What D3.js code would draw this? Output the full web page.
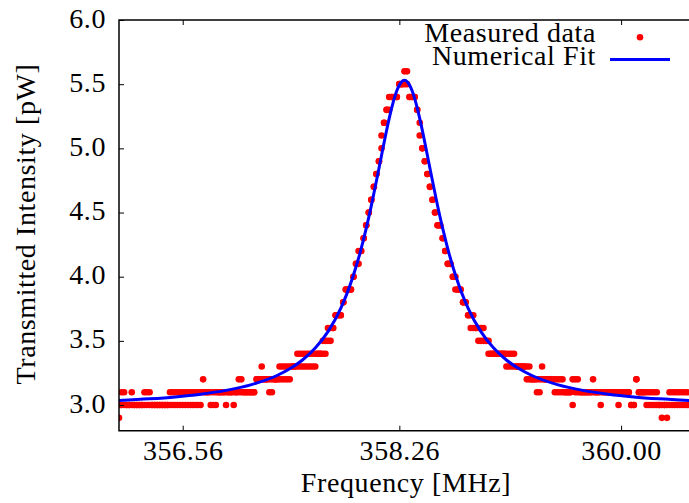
<!DOCTYPE html>
<html><head><meta charset="utf-8">
<script src="https://cdn.jsdelivr.net/npm/d3@7"></script>
<style>body{margin:0;background:#fff}svg{display:block}</style>
</head><body><svg id="c" width="689" height="503"></svg>
<script>
// ---- data ----
const freq=[356.06,356.08,356.10,356.12,356.14,356.16,356.18,356.20,356.22,356.24,
356.26,356.28,356.30,356.32,356.34,356.36,356.38,356.40,356.42,356.44,
356.46,356.48,356.50,356.52,356.54,356.56,356.58,356.60,356.62,356.64,
356.66,356.68,356.70,356.72,356.74,356.76,356.78,356.80,356.82,356.84,
356.86,356.88,356.90,356.92,356.94,356.96,356.98,357.00,357.02,357.04,
357.06,357.08,357.10,357.12,357.14,357.16,357.18,357.20,357.22,357.24,
357.26,357.28,357.30,357.32,357.34,357.36,357.38,357.40,357.42,357.44,
357.46,357.48,357.50,357.52,357.54,357.56,357.58,357.60,357.62,357.64,
357.66,357.68,357.70,357.72,357.74,357.76,357.78,357.80,357.82,357.84,
357.86,357.88,357.90,357.92,357.94,357.96,357.98,358.00,358.02,358.04,
358.06,358.08,358.10,358.12,358.14,358.16,358.18,358.20,358.22,358.24,
358.26,358.28,358.30,358.32,358.34,358.36,358.38,358.40,358.42,358.44,
358.46,358.48,358.50,358.52,358.54,358.56,358.58,358.60,358.62,358.64,
358.66,358.68,358.70,358.72,358.74,358.76,358.78,358.80,358.82,358.84,
358.86,358.88,358.90,358.92,358.94,358.96,358.98,359.00,359.02,359.04,
359.06,359.08,359.10,359.12,359.14,359.16,359.18,359.20,359.22,359.24,
359.26,359.28,359.30,359.32,359.34,359.36,359.38,359.40,359.42,359.44,
359.46,359.48,359.50,359.52,359.54,359.56,359.58,359.60,359.62,359.64,
359.66,359.68,359.70,359.72,359.74,359.76,359.78,359.80,359.82,359.84,
359.86,359.88,359.90,359.92,359.94,359.96,359.98,360.00,360.02,360.04,
360.06,360.08,360.10,360.12,360.14,360.16,360.18,360.20,360.22,360.24,
360.26,360.28,360.30,360.32,360.34,360.36,360.38,360.40,360.42,360.44,
360.46,360.48,360.50,360.52];
const sweepA=[2.9,3.0,3.0,3.0,3.0,3.0,3.0,3.0,3.0,3.0,
3.0,3.0,3.0,3.0,3.0,3.0,3.0,3.0,3.0,3.0,
3.0,3.0,3.0,3.0,3.0,3.0,3.0,3.0,3.0,3.0,
3.0,3.0,3.0,3.2,3.1,3.1,3.0,3.0,3.0,3.1,
3.1,3.1,3.0,3.1,3.1,3.0,3.1,3.2,3.2,3.1,
3.1,3.1,3.1,3.1,3.2,3.2,3.2,3.2,3.2,3.2,
3.2,3.2,3.2,3.2,3.2,3.2,3.2,3.2,3.3,3.3,
3.3,3.3,3.3,3.3,3.3,3.3,3.3,3.3,3.4,3.4,
3.4,3.4,3.5,3.5,3.6,3.7,3.7,3.7,3.8,3.9,
3.9,3.9,4.0,4.1,4.1,4.2,4.3,4.4,4.5,4.6,
4.7,4.8,4.9,5.0,5.2,5.3,5.3,5.4,5.4,5.4,
5.5,5.5,5.5,5.6,5.4,5.4,5.4,5.3,5.2,5.0,
4.9,4.8,4.7,4.6,4.5,4.4,4.4,4.3,4.2,4.1,
4.1,4.0,4.0,3.9,3.9,3.8,3.8,3.7,3.7,3.7,
3.6,3.6,3.6,3.6,3.5,3.5,3.4,3.4,3.4,3.4,
3.4,3.4,3.4,3.4,3.4,3.4,3.3,3.3,3.3,3.3,
3.3,3.3,3.2,3.2,3.2,3.2,3.2,3.2,3.2,3.2,
3.2,3.2,3.2,3.2,3.2,3.1,3.1,3.1,3.2,3.2,
3.2,3.1,3.1,3.1,3.1,3.1,3.2,3.1,3.1,3.0,
3.1,3.1,3.1,3.1,3.1,3.1,3.0,3.1,3.1,3.1,
3.1,3.0,3.0,3.2,3.1,3.1,3.1,3.0,3.0,3.0,
3.0,3.0,3.0,3.0,3.0,3.0,3.0,3.0,3.0,3.0,
3.0,3.0,3.0,3.0];
const sweepB=[3.0,3.1,3.1,3.0,3.0,3.1,3.0,3.0,3.0,3.0,
3.1,3.1,3.1,3.0,3.0,3.0,3.0,3.0,3.0,3.0,
3.1,3.1,3.1,3.1,3.1,3.1,3.1,3.1,3.1,3.1,
3.1,3.1,3.1,3.1,3.1,3.1,3.1,3.1,3.1,3.1,
3.1,3.1,3.1,3.1,3.1,3.1,3.1,3.1,3.1,3.1,
3.1,3.1,3.1,3.1,3.2,3.2,3.3,3.2,3.2,3.1,
3.1,3.2,3.2,3.3,3.3,3.3,3.3,3.3,3.3,3.3,
3.4,3.4,3.4,3.4,3.4,3.4,3.4,3.4,3.4,3.4,
3.5,3.5,3.6,3.6,3.6,3.7,3.7,3.7,3.8,3.9,
3.9,3.9,4.0,4.1,4.2,4.2,4.3,4.4,4.5,4.6,
4.7,4.8,4.9,5.1,5.2,5.3,5.4,5.4,5.4,5.4,
5.5,5.5,5.6,5.5,5.4,5.4,5.4,5.3,5.1,5.0,
4.9,4.8,4.7,4.6,4.5,4.4,4.4,4.3,4.2,4.1,
4.1,4.0,3.9,3.9,3.9,3.8,3.8,3.7,3.6,3.6,
3.6,3.5,3.5,3.5,3.5,3.4,3.4,3.4,3.4,3.4,
3.4,3.4,3.3,3.3,3.3,3.3,3.3,3.3,3.3,3.3,
3.2,3.2,3.2,3.2,3.1,3.1,3.3,3.2,3.2,3.2,
3.2,3.1,3.1,3.1,3.1,3.1,3.1,3.1,3.0,3.1,
3.1,3.1,3.1,3.1,3.1,3.1,3.1,3.1,3.1,3.1,
3.1,3.1,3.1,3.1,3.1,3.1,3.1,3.1,3.1,3.1,
3.1,3.0,3.0,3.2,3.1,3.1,3.1,3.1,3.1,3.1,
3.1,3.1,3.0,2.9,3.0,2.9,3.1,3.1,3.1,3.1,
3.1,3.1,3.1,3.1];
const fitFreq=[356.05,356.30,356.50,356.70,356.90,357.10,357.30,357.40,357.50,357.60,357.70,357.80,357.85,357.90,357.95,358.00,358.05,358.10,358.125,358.15,358.175,358.20,358.225,358.25,358.275,
358.30,
358.325,358.35,358.375,358.40,358.425,358.45,358.475,358.50,358.55,358.60,358.65,358.70,358.75,358.80,358.90,359.00,359.10,359.20,359.30,359.50,359.70,359.90,360.10,360.30,360.55];
const fitValue=[3.034,3.048,3.063,3.084,3.114,3.159,3.230,3.282,3.351,3.444,3.572,3.754,3.872,4.013,4.180,4.376,4.600,4.845,4.970,5.093,5.210,5.316,5.405,5.473,5.515,
5.530,
5.515,5.473,5.405,5.316,5.210,5.093,4.970,4.845,4.600,4.376,4.180,4.013,3.872,3.754,3.572,3.444,3.351,3.282,3.230,3.159,3.114,3.084,3.063,3.048,3.034];
const xTicks=[356.56,358.26,360.00];
const yTicks=[3.0,3.5,4.0,4.5,5.0,5.5,6.0];
const seriesNames=["Measured data","Numerical Fit"];
const xLabel="Frequency [MHz]";
const yLabel="Transmitted Intensity [pW]";

// ---- drawing ----
const FONT='"Liberation Serif","Times New Roman",serif';
const FS=28, LS="0.6px";
const L=119,R=688,T=20,B=430.7;
const svg=d3.select("#c");
svg.append("rect").attr("width",689).attr("height",503).attr("fill","#fff");
const x=d3.scaleLinear().domain([356.06,360.525]).range([L,R]);
const y=d3.scaleLinear().domain([2.8,6.0]).range([B,T]);

svg.append("defs").append("clipPath").attr("id","clip")
  .append("rect").attr("x",L).attr("y",T).attr("width",R-L+2).attr("height",B-T);

const pts=[];
freq.forEach((f,i)=>{pts.push([f,sweepA[i]]);pts.push([f,sweepB[i]]);});
const gData=svg.append("g").attr("clip-path","url(#clip)");
gData.selectAll("circle").data(pts).enter().append("circle")
  .attr("cx",d=>x(d[0])).attr("cy",d=>y(d[1])).attr("r",3.3).attr("fill","#ff0000");

const line=d3.line().x((d,i)=>x(fitFreq[i])).y(d=>y(d)).curve(d3.curveMonotoneX);
gData.append("path").datum(fitValue).attr("d",line)
  .attr("fill","none").attr("stroke","#0000ff").attr("stroke-width",3);

function styleAxis(g){
  g.select(".domain").remove();
  g.selectAll(".tick line").attr("stroke","#000").attr("stroke-width",1);
  g.selectAll("text").attr("font-family",FONT).attr("font-size",FS)
    .attr("letter-spacing",LS).attr("fill","#000");
}
const fmt=d3.format(".2f");
const gx=svg.append("g").attr("transform",`translate(0,${B})`)
  .call(d3.axisBottom(x).tickValues(xTicks).tickFormat(fmt).tickSize(-5).tickPadding(9.5));
styleAxis(gx);
const gxt=svg.append("g").attr("transform",`translate(0,${T})`)
  .call(d3.axisTop(x).tickValues(xTicks).tickFormat("").tickSize(-5));
styleAxis(gxt);
const gy=svg.append("g").attr("transform",`translate(${L},0)`)
  .call(d3.axisLeft(y).tickValues(yTicks).tickFormat(d3.format(".1f")).tickSize(-5).tickPadding(13));
styleAxis(gy);
gy.selectAll("text").attr("dy","0.25em");

svg.append("path")
  .attr("d",`M${R+2},${T}H${L}V${B}H${R+2}`)
  .attr("fill","none").attr("stroke","#000").attr("stroke-width",1.5);

svg.append("text").attr("x",406).attr("y",492).attr("text-anchor","middle")
  .attr("font-family",FONT).attr("font-size",FS).attr("letter-spacing",LS).text(xLabel);
svg.append("text").attr("transform",`translate(35,224) rotate(-90)`).attr("text-anchor","middle")
  .attr("font-family",FONT).attr("font-size",FS).attr("letter-spacing",LS).text(yLabel);

// legend
const lg=svg.append("g");
lg.append("text").attr("x",596).attr("y",42).attr("text-anchor","end")
  .attr("font-family",FONT).attr("font-size",FS).attr("letter-spacing",LS).text(seriesNames[0]);
lg.append("circle").attr("cx",640).attr("cy",37.3).attr("r",3.3).attr("fill","#ff0000");
lg.append("text").attr("x",596).attr("y",65).attr("text-anchor","end")
  .attr("font-family",FONT).attr("font-size",FS).attr("letter-spacing",LS).text(seriesNames[1]);
lg.append("line").attr("x1",610).attr("x2",670).attr("y1",59.5).attr("y2",59.5)
  .attr("stroke","#0000ff").attr("stroke-width",3);
</script></body></html>
